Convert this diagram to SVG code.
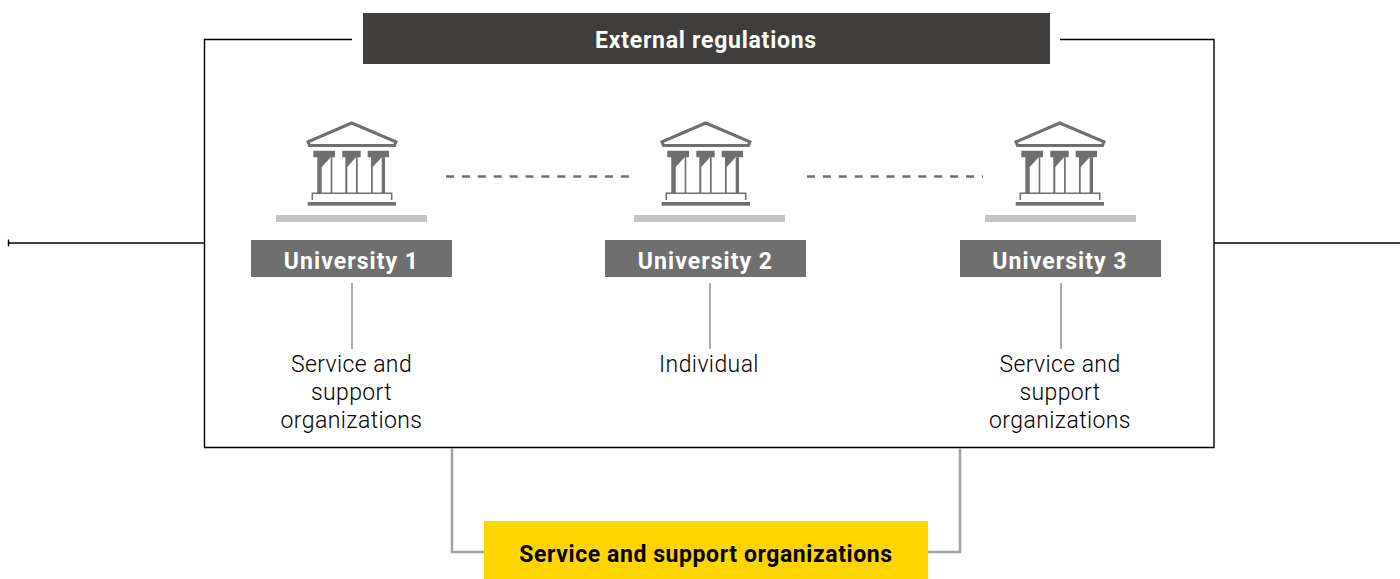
<svg xmlns="http://www.w3.org/2000/svg" width="1400" height="579" viewBox="0 0 1400 579">
<style>
text{font-family:Roboto,"Liberation Sans",sans-serif;text-anchor:middle}
.t{font-size:23px;font-weight:300;fill:#000;letter-spacing:.4px}
.b{font-size:23px;font-weight:700;fill:#fff;letter-spacing:.75px}
.u{letter-spacing:1.05px}
.s{fill:#000;letter-spacing:.58px}
.k{fill:none;stroke:#000;stroke-width:1.4}
.g{fill:none;stroke:#8a8a8a;stroke-width:1.4}
.c{fill:none;stroke:#a3a3a3;stroke-width:2.6}
.d{fill:none;stroke:#6f6f6f;stroke-width:2.6;stroke-dasharray:8 7.900}
.i{fill:#6f6f6f}
</style>
<defs>
<g id="temple">
<path d="M45.700 3 L90 21.800 L88.500 25.500 L3.500 25.500 L2 21.800 Z" fill="#fff" stroke="#6f6f6f" stroke-width="3"/>
<path class="i" d="M7.300 30.700H29V37.300H24.700L15.700 47V73H11.300V37.300H7.300Z"/>
<path class="i" d="M36.300 30.700H54.700V37.300H50L41.300 47V73H39.300V37.300H36.300Z"/>
<path class="i" d="M61.700 30.700H83V37.300H75.700L66.700 47V73H65V37.300H61.700Z"/>
<path class="i" d="M24.700 37.300H26.300V73H24.700ZM50 37.300H51.700V73H50ZM75.700 37.300H79V73H75.700Z"/>
<path d="M6.300 80V73.300H85.700V80" fill="none" stroke="#6f6f6f" stroke-width="1.500"/>
<rect class="i" x="1.700" y="82" width="88.300" height="3.700"/>
</g>
</defs>
<g id="connectors">
<path class="k" d="M352 39.500H204.500V447.500H1214V39.500H1060"/>
<path class="k" d="M8 243H204M1214 243H1400M8.500 239.500V246.500"/>
<path class="c" d="M452 448V552H484M960 448V552H928"/>
<path class="d" d="M446 176.500H630M807 176.500H983"/>
<path class="g" d="M352 283V349M710 283V349M1061 283V349"/>
</g>
<g id="external"><rect x="363" y="13" width="687" height="51" fill="#3f3e3c"/><text class="b" x="706" y="48">External regulations</text></g>
<g id="university1">
<use href="#temple" x="306" y="120"/>
<rect x="276" y="215" width="151" height="7" fill="#c4c4c4"/>
<rect class="i" x="251" y="240" width="201" height="37"/>
<text class="b u" x="351.500" y="269">University 1</text>
</g>
<g id="university2">
<use href="#temple" x="660" y="120"/>
<rect x="634" y="215" width="151" height="7" fill="#c4c4c4"/>
<rect class="i" x="605" y="240" width="201" height="37"/>
<text class="b u" x="705.500" y="269">University 2</text>
</g>
<g id="university3">
<use href="#temple" x="1014" y="120"/>
<rect x="985" y="215" width="151" height="7" fill="#c4c4c4"/>
<rect class="i" x="960" y="240" width="201" height="37"/>
<text class="b u" x="1060" y="269">University 3</text>
</g>
<g id="label1"><text class="t" x="351.500" y="372">Service and</text><text class="t" x="351.500" y="400">support</text><text class="t" x="351.500" y="428">organizations</text></g>
<g id="label2"><text class="t" x="709" y="372">Individual</text></g>
<g id="label3"><text class="t" x="1060" y="372">Service and</text><text class="t" x="1060" y="400">support</text><text class="t" x="1060" y="428">organizations</text></g>
<g id="service"><rect x="484" y="521" width="444" height="58" fill="#ffd500"/><text class="b s" x="706" y="562">Service and support organizations</text></g>
</svg>
